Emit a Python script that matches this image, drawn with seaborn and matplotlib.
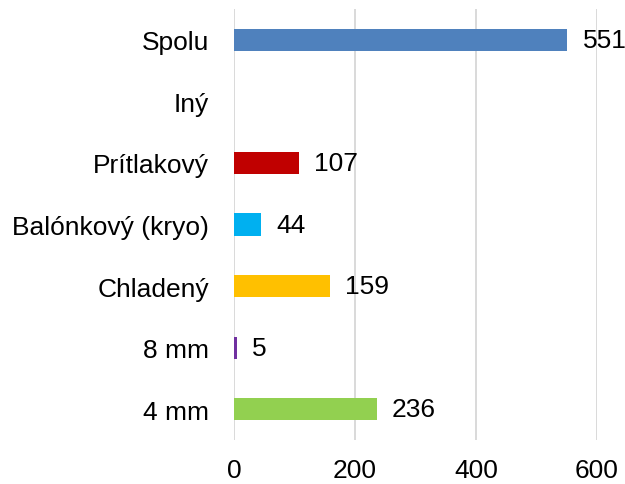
import numpy as np
import pandas as pd
import matplotlib
matplotlib.use('Agg')
import matplotlib.pyplot as plt
import seaborn as sns

# data (top to bottom as shown)
categories = ['Spolu', 'Iný', 'Prítlakový', 'Balónkový (kryo)', 'Chladený', '8 mm', '4 mm']
values = [551, np.nan, 107, 44, 159, 5, 236]
bar_colors = ['#4F81BD', '#7F7F7F', '#C00000', '#00B0F0', '#FFC000', '#7030A0', '#92D050']
x_ticks = [0, 200, 400, 600]

df = pd.DataFrame({'kategoria': categories, 'pocet': values})

sns.set_style('white')
plt.rcParams['font.family'] = ['Liberation Sans', 'DejaVu Sans']

fig = plt.figure(figsize=(6.25, 4.85), dpi=100)
ax = fig.add_axes([0.3744, 0.0907, 0.5808, 0.8887])

sns.barplot(data=df, x='pocet', y='kategoria', hue='kategoria', order=categories,
            palette=dict(zip(categories, bar_colors)), legend=False,
            width=0.36, saturation=1, orient='h', linewidth=0, ax=ax)

ax.set_xlim(0, 600)
ax.set_xticks(x_ticks)
ax.set_xticklabels([str(t) for t in x_ticks])
ax.set_xlabel('')
ax.set_ylabel('')
ax.grid(axis='x', color='#D9D9D9', linewidth=1.4)
ax.set_axisbelow(True)
for s in ax.spines.values():
    s.set_visible(False)
ax.tick_params(axis='y', length=0, pad=18, labelsize=19, colors='black')
ax.tick_params(axis='x', length=0, pad=13, labelsize=19, colors='black')

# value labels
for i, v in enumerate(values):
    if np.isnan(v):
        continue
    ax.annotate(f'{int(v)}', xy=(v, i), xytext=(11, 0), textcoords='offset points',
                va='center', ha='left', fontsize=19, color='black',
                annotation_clip=False)

fig.savefig('out.png', dpi=100)
